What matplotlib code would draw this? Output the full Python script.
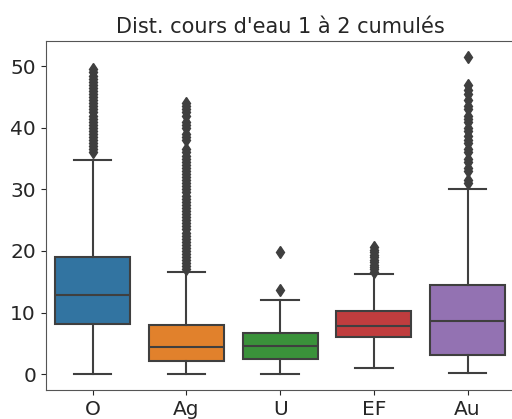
import matplotlib.pyplot as plt

# Data (box statistics)
categories = ['O', 'Ag', 'U', 'EF', 'Au']
med = [12.8, 4.4, 4.5, 7.8, 8.7]
q1 = [8.1, 2.1, 2.5, 6.1, 3.1]
q3 = [19.0, 7.9, 6.7, 10.2, 14.4]
whislo = [0.0, 0.0, 0.0, 1.0, 0.1]
whishi = [34.7, 16.6, 12.1, 16.3, 30.1]
fliers_O = [36.0, 36.5, 37.0, 37.5, 38.0, 38.5, 39.0, 39.5, 40.0, 40.5, 41.0,
            41.5, 42.0, 42.5, 43.0, 43.5, 44.0, 44.5, 45.0, 45.5, 46.0, 46.5,
            47.0, 47.5, 48.0, 48.5, 49.0, 49.5]
fliers_Ag = [17.0, 17.5, 18.0, 18.5, 19.0, 19.5, 20.0, 20.5, 21.0, 21.5, 22.0,
             22.5, 23.0, 23.5, 24.0, 24.5, 25.0, 25.5, 26.0, 26.5, 27.0, 27.5,
             28.0, 28.5, 29.0, 29.5, 30.0, 30.5, 31.0, 31.5, 32.0, 32.5, 33.0,
             33.5, 34.0, 34.5, 35.0, 35.5, 36.0, 36.6, 38.0, 38.5, 39.0, 40.0,
             40.5, 41.0, 42.0, 42.5, 43.0, 43.6, 44.0]
fliers_U = [13.7, 19.9]
fliers_EF = [16.6, 17.0, 17.4, 17.8, 18.2, 18.6, 19.0, 19.4, 19.8, 20.2, 20.6]
fliers_Au = [31.1, 31.6, 33.0, 33.5, 34.5, 35.0, 36.0, 36.6, 37.5, 38.0, 38.6,
             39.5, 40.0, 41.0, 41.5, 42.0, 43.0, 43.6, 44.5, 45.5, 46.2, 47.0, 51.5]
fliers = [fliers_O, fliers_Ag, fliers_U, fliers_EF, fliers_Au]
colors = ['#3274a1', '#e1812c', '#3a923a', '#c03d3e', '#9372b2']

stats = []
for i, c in enumerate(categories):
    stats.append(dict(label=c, med=med[i], q1=q1[i], q3=q3[i],
                      whislo=whislo[i], whishi=whishi[i], fliers=fliers[i]))

fig = plt.figure(figsize=(5.12, 4.19), dpi=100)
ax = fig.add_axes([0.0894, 0.069, 0.9155, 0.833])

gray = '#3f3f3f'
bp = ax.bxp(stats, positions=range(len(categories)), widths=0.8,
            patch_artist=True,
            boxprops=dict(edgecolor=gray, linewidth=1.5),
            medianprops=dict(color=gray, linewidth=1.5),
            whiskerprops=dict(color=gray, linewidth=1.5),
            capprops=dict(color=gray, linewidth=1.5),
            flierprops=dict(marker='d', markerfacecolor=gray,
                            markeredgecolor=gray, markersize=6))
for patch, col in zip(bp['boxes'], colors):
    patch.set_facecolor(col)

ax.set_xlim(-0.5, 4.5)
ax.set_ylim(-2.6, 54.1)
ax.set_yticks([0, 10, 20, 30, 40, 50])
ax.set_xticks(range(len(categories)))
ax.set_xticklabels(categories)
ax.tick_params(labelsize=14.5, colors='#262626')
for s in ax.spines.values():
    s.set_color('#555555')
ax.spines['right'].set_visible(False)  # falls just outside the crop
ax.set_title("Dist. cours d'eau 1 à 2 cumulés", fontsize=15, color='#262626')

plt.savefig('out.png')
